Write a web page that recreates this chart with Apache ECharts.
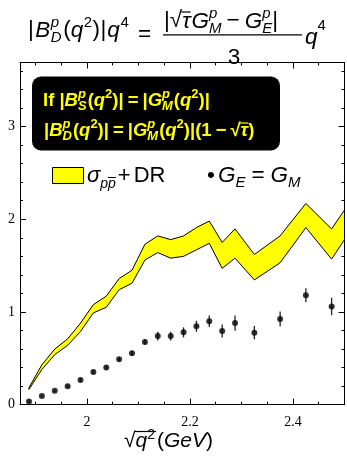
<!DOCTYPE html>
<html>
<head>
<meta charset="utf-8">
<script src="https://cdn.jsdelivr.net/npm/echarts@6/dist/echarts.min.js"></script>
<style>
  html, body { margin: 0; padding: 0; background: #fff; }
  #chart { width: 347px; height: 457px; }
</style>
</head>
<body>
<div id="chart"></div>
<script>
// Measured |B_D(q^2)| q^4 (points with errors)
const xVals = [1.8875, 1.9125, 1.9375, 1.9625, 1.9875, 2.0125, 2.0375, 2.0625, 2.0875, 2.1125,
               2.1375, 2.1625, 2.1875, 2.2125, 2.2375, 2.2625, 2.2875, 2.325, 2.375, 2.425, 2.475];
const ratioVals = [0.035, 0.094, 0.15, 0.20, 0.266, 0.353, 0.40, 0.49, 0.555, 0.676,
                   0.74, 0.74, 0.78, 0.846, 0.90, 0.795, 0.88, 0.777, 0.925, 1.18, 1.06];
const ratioErr = [0.01, 0.01, 0.012, 0.014, 0.016, 0.018, 0.02, 0.022, 0.025, 0.03,
                  0.047, 0.047, 0.054, 0.06, 0.061, 0.07, 0.083, 0.072, 0.081, 0.076, 0.095];

// sigma(p pbar) + dispersion relation band
const bandX = [1.8875, 1.9125, 1.9375, 1.9625, 1.9875, 2.0125, 2.0375, 2.0625, 2.0875, 2.1125,
               2.1375, 2.1625, 2.1875, 2.2125, 2.2375, 2.2625, 2.2875, 2.325, 2.375, 2.425, 2.475, 2.5];
const bandUpper = [0.185, 0.43, 0.60, 0.71, 0.88, 1.08, 1.17, 1.36, 1.45, 1.73,
                   1.82, 1.78, 1.82, 1.91, 1.98, 1.75, 1.895, 1.62, 1.82, 2.17, 1.895, 2.10];
const bandLower = [0.165, 0.38, 0.54, 0.64, 0.79, 0.99, 1.05, 1.24, 1.31, 1.56,
                   1.64, 1.58, 1.60, 1.67, 1.74, 1.47, 1.58, 1.345, 1.53, 1.91, 1.57, 1.78];

// Axis ranges and ticks
const xMin = 1.87, xMax = 2.5;
const yMin = 0, yMax = 3.69;
const xMajorTicks = [2, 2.2, 2.4];
const xMinorTicks = [1.9, 1.95, 2.05, 2.1, 2.15, 2.25, 2.3, 2.35, 2.45];
const yMajorTicks = [0, 1, 2, 3];
const yMinorTicks = [0.2, 0.4, 0.6, 0.8, 1.2, 1.4, 1.6, 1.8, 2.2, 2.4, 2.6, 2.8, 3.2, 3.4, 3.6];

const SANS = 'Liberation Sans';
const SERIF = 'Liberation Serif';
const YELLOW = '#ffff00';

const mctx = document.createElement('canvas').getContext('2d');

// Lays out a run of text pieces along a baseline (sub/superscripts via dy, stacked via stack)
function run(x0, base, pieces, defaults) {
  const els = [], spans = [];
  let x = x0, prevStart = x0;
  pieces.forEach(function (p0) {
    const p = Object.assign({ s: 20, f: SANS, c: '#000', i: 0, b: 0 }, defaults || {}, p0);
    const font = (p.i ? 'italic ' : '') + (p.b ? 'bold ' : '') + p.s + 'px "' + p.f + '"';
    mctx.font = font;
    const wd = mctx.measureText(p.t).width;
    const start = p.stack ? prevStart : x + (p.dx || 0);
    const by = base + (p.dy || 0);
    els.push({
      type: 'text', silent: true, z: 20,
      x: start, y: by - 0.345 * p.s,
      style: { text: p.t, font: font, fill: p.c, align: 'left', verticalAlign: 'middle' }
    });
    if (p.over) {
      els.push({
        type: 'line', silent: true, z: 20,
        shape: { x1: start + (p.ox || 0), y1: by - p.over, x2: start + wd + (p.ox2 || 0), y2: by - p.over },
        style: { stroke: p.c, lineWidth: p.ow || 1.2 }
      });
    }
    spans.push([start, start + wd, by]);
    if (!p.stack) prevStart = start;
    x = p.stack ? Math.max(x, start + wd) : start + wd;
  });
  return { els: els, spans: spans, end: x };
}

function textWidth(t, font) { mctx.font = font; return mctx.measureText(t).width; }

const graphics = [];

// Title: |B_D^p(q^2)| q^4 = |sqrt(tau) G_M^p - G_E^p| / 3 q^4
const T = 22.5, TS = 15;
graphics.push.apply(graphics, run(28, 38, [
  { t: '|' }, { t: 'B', i: 1, dx: 1.5 }, { t: 'p', i: 1, s: TS, dy: -10, dx: 0.5 }, { t: 'D', i: 1, s: TS, dy: 5, stack: 1 },
  { t: '(', dx: 1.5 }, { t: 'q', i: 1 }, { t: '2', s: TS, dy: -10, dx: 0.5 }, { t: ')', dx: 0.5 }, { t: '|', dx: 0.5 },
  { t: 'q', i: 1, dx: 1 }, { t: '4', s: TS, dy: -10, dx: 0.5 }
], { s: T }).els);
graphics.push.apply(graphics, run(138, 43, [{ t: '=' }], { s: T }).els);
graphics.push.apply(graphics, run(164, 29, [
  { t: '|' }, { t: '√' }, { t: 'τ', i: 1, over: 17, ox: -1 }, { t: 'G', i: 1, dx: 1 },
  { t: 'p', i: 1, s: TS, dy: -10 }, { t: 'M', i: 1, s: TS, dy: 5, stack: 1 },
  { t: '−', dx: 5 }, { t: 'G', i: 1, dx: 5 }, { t: 'p', i: 1, s: TS, dy: -10 }, { t: 'E', i: 1, s: TS, dy: 5, stack: 1 },
  { t: '|' }
], { s: T }).els);
graphics.push({ type: 'line', silent: true, z: 20, shape: { x1: 163, y1: 34.8, x2: 302, y2: 34.8 }, style: { stroke: '#000', lineWidth: 1.3 } });
const threeW = textWidth('3', T + 'px "' + SANS + '"');
graphics.push.apply(graphics, run(234 - threeW / 2, 65.5, [{ t: '3' }], { s: T }).els);
graphics.push.apply(graphics, run(305, 45.5, [{ t: 'q', i: 1 }, { t: '4', s: TS, dy: -14 }], { s: T }).els);

// Annotation box
graphics.push({
  type: 'rect', silent: true, z: 15,
  shape: { x: 32, y: 76.5, width: 248, height: 74, r: 9 },
  style: { fill: '#000' }
});
const B = 18.5, BS = 13;
graphics.push.apply(graphics, run(43, 107, [
  { t: 'If ' }, { t: '|' }, { t: 'B', i: 1 }, { t: 'p', i: 1, s: BS, dy: -8 }, { t: 'S', i: 1, s: BS, dy: 4, stack: 1 },
  { t: '(', dx: 1 }, { t: 'q', i: 1 }, { t: '2', s: BS, dy: -8 }, { t: ')|' }, { t: '=', dx: 4 }, { t: '|', dx: 4 },
  { t: 'G', i: 1 }, { t: 'p', i: 1, s: BS, dy: -8 }, { t: 'M', i: 1, s: BS, dy: 4, stack: 1 },
  { t: '(', dx: 1 }, { t: 'q', i: 1 }, { t: '2', s: BS, dy: -8 }, { t: ')|' }
], { s: B, b: 1, c: YELLOW }).els);
graphics.push.apply(graphics, run(44, 137, [
  { t: '|' }, { t: 'B', i: 1 }, { t: 'p', i: 1, s: BS, dy: -8 }, { t: 'D', i: 1, s: BS, dy: 4, stack: 1 },
  { t: '(', dx: 1 }, { t: 'q', i: 1 }, { t: '2', s: BS, dy: -8 }, { t: ')|' }, { t: '=', dx: 4 }, { t: '|', dx: 4 },
  { t: 'G', i: 1 }, { t: 'p', i: 1, s: BS, dy: -8 }, { t: 'M', i: 1, s: BS, dy: 4, stack: 1 },
  { t: '(', dx: 1 }, { t: 'q', i: 1 }, { t: '2', s: BS, dy: -8 }, { t: ')|' },
  { t: '(1' }, { t: '−', dx: 4 }, { t: '√', dx: 4 }, { t: 'τ', i: 1, over: 14, ox: -1 }, { t: ')' }
], { s: B, b: 1, c: YELLOW }).els);

// Legend
graphics.push({
  type: 'rect', silent: true, z: 15,
  shape: { x: 52.5, y: 167.5, width: 31, height: 16 },
  style: { fill: YELLOW, stroke: '#000', lineWidth: 1 }
});
graphics.push.apply(graphics, run(87, 183.5, [
  { t: 'σ', i: 1 }, { t: 'p', i: 1, s: 14, dy: 5 }, { t: 'p', i: 1, s: 14, dy: 5, over: 11, ow: 1 },
  { t: '+', dx: 2 }, { t: 'DR', dx: 3 }
], { s: 22 }).els);
graphics.push.apply(graphics, run(207, 183.5, [
  { t: '•' }, { t: 'G', i: 1, dx: 3 }, { t: 'E', i: 1, s: 15, dy: 5 }, { t: '=', dx: 6 },
  { t: 'G', i: 1, dx: 6 }, { t: 'M', i: 1, s: 15, dy: 5 }
], { s: 22.5 }).els);

// X axis title: sqrt(q^2) (GeV)
const xt = run(124, 448.5, [
  { t: '√' }, { t: 'q', i: 1 }, { t: '2', s: 14, dy: -9 }, { t: '(', dx: 2 }, { t: 'GeV', i: 1 }, { t: ')' }
], { s: 21 });
graphics.push.apply(graphics, xt.els);
graphics.push({
  type: 'line', silent: true, z: 20,
  shape: { x1: xt.spans[1][0] - 1, y1: 431.5, x2: xt.spans[2][1] + 1, y2: 431.5 },
  style: { stroke: '#000', lineWidth: 1.2 }
});

// Axis helpers
function tickAxis(pos, isX, values, len, withLine, labels) {
  const ax = {
    type: 'value', position: pos,
    min: isX ? xMin : yMin, max: isX ? xMax : yMax,
    splitLine: { show: false },
    axisLine: { show: !!withLine, onZero: false, lineStyle: { color: '#000', width: 1 } },
    axisTick: { show: true, inside: true, length: len, customValues: values, lineStyle: { color: '#000', width: 1 } },
    axisLabel: { show: false }
  };
  if (labels) {
    ax.axisLabel = {
      show: true, customValues: labels, color: '#000',
      fontFamily: SERIF, fontSize: 14, margin: isX ? 11 : 5
    };
  }
  return ax;
}

const chart = echarts.init(document.getElementById('chart'), null, { renderer: 'canvas' });
chart.setOption({
  animation: false,
  backgroundColor: '#fff',
  grid: { left: 20, right: 2.5, top: 62.5, bottom: 52.3, containLabel: false },
  xAxis: [
    tickAxis('bottom', true, xMajorTicks, 6, true, xMajorTicks),
    tickAxis('bottom', true, xMinorTicks, 3, false),
    tickAxis('top', true, xMajorTicks, 6, true),
    tickAxis('top', true, xMinorTicks, 3, false)
  ],
  yAxis: [
    tickAxis('left', false, yMajorTicks, 6, true, yMajorTicks),
    tickAxis('left', false, yMinorTicks, 3, false),
    tickAxis('right', false, yMajorTicks, 6, true),
    tickAxis('right', false, yMinorTicks, 3, false)
  ],
  graphic: { elements: graphics },
  series: [
    {
      type: 'custom', name: 'band', xAxisIndex: 0, yAxisIndex: 0, z: 2,
      data: [[bandX[0], bandLower[0]]],
      renderItem: function (params, api) {
        const pts = [];
        for (let i = 0; i < bandX.length; i++) pts.push(api.coord([bandX[i], bandUpper[i]]));
        for (let i = bandX.length - 1; i >= 0; i--) pts.push(api.coord([bandX[i], bandLower[i]]));
        return {
          type: 'polygon', shape: { points: pts },
          style: { fill: YELLOW, stroke: '#000', lineWidth: 1, lineJoin: 'miter' }
        };
      }
    },
    {
      type: 'custom', name: 'errors', xAxisIndex: 0, yAxisIndex: 0, z: 3,
      data: xVals.map(function (x, i) { return [x, ratioVals[i] - ratioErr[i], ratioVals[i] + ratioErr[i]]; }),
      renderItem: function (params, api) {
        const lo = api.coord([api.value(0), api.value(1)]);
        const hi = api.coord([api.value(0), api.value(2)]);
        return {
          type: 'line', shape: { x1: lo[0], y1: lo[1], x2: hi[0], y2: hi[1] },
          style: { stroke: '#222', lineWidth: 1.3 }
        };
      }
    },
    {
      type: 'scatter', name: 'data', xAxisIndex: 0, yAxisIndex: 0, z: 4,
      symbol: 'circle', symbolSize: 6,
      itemStyle: { color: '#000' },
      data: xVals.map(function (x, i) { return [x, ratioVals[i]]; })
    }
  ]
});
</script>
</body>
</html>
